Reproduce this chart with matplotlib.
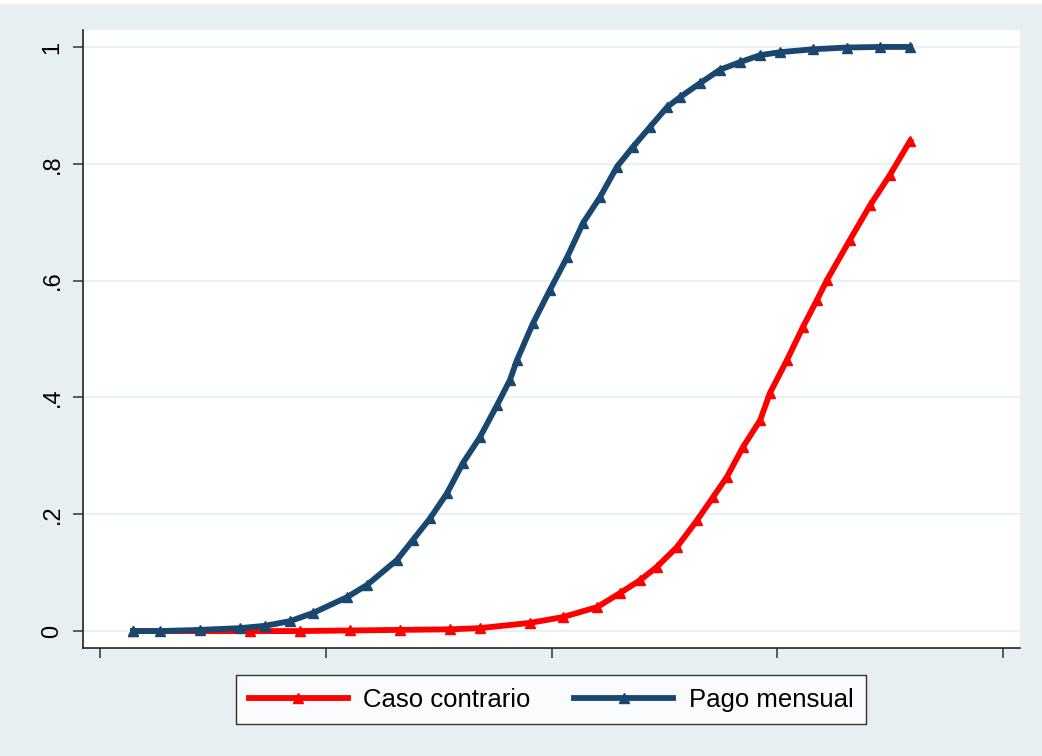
import matplotlib.pyplot as plt
from matplotlib.patches import Rectangle

plt.rcParams['font.family'] = ['Liberation Sans', 'DejaVu Sans']

# Pago mensual (curva azul)
x_pago = [0.146, 0.266, 0.443, 0.620, 0.731, 0.842, 0.944, 1.094, 1.183, 1.316,
          1.386, 1.462, 1.537, 1.608, 1.683, 1.759, 1.816, 1.847, 1.918, 1.993,
          2.069, 2.140, 2.215, 2.290, 2.361, 2.436, 2.512, 2.569, 2.658, 2.746,
          2.835, 2.924, 3.012, 3.158, 3.309, 3.455, 3.588]
y_pago = [0.000, 0.000, 0.002, 0.005, 0.009, 0.017, 0.031, 0.058, 0.079, 0.122,
          0.156, 0.193, 0.236, 0.288, 0.332, 0.387, 0.430, 0.464, 0.527, 0.584,
          0.640, 0.699, 0.743, 0.795, 0.829, 0.863, 0.897, 0.914, 0.938, 0.961,
          0.974, 0.986, 0.991, 0.996, 0.999, 1.000, 1.000]

# Caso contrario (curva roja)
x_caso = [0.146, 0.664, 0.886, 1.107, 1.329, 1.550, 1.683, 1.905, 2.051, 2.202,
          2.303, 2.392, 2.467, 2.556, 2.645, 2.715, 2.777, 2.848, 2.924, 2.968,
          3.043, 3.114, 3.176, 3.220, 3.322, 3.411, 3.499, 3.588]
y_caso = [0.000, 0.000, 0.000, 0.001, 0.002, 0.003, 0.005, 0.014, 0.024, 0.041,
          0.065, 0.087, 0.110, 0.144, 0.190, 0.229, 0.264, 0.315, 0.361, 0.408,
          0.464, 0.521, 0.567, 0.601, 0.670, 0.729, 0.781, 0.839]

y_ticks = [0, 0.2, 0.4, 0.6, 0.8, 1]
y_labels = ['0', '.2', '.4', '.6', '.8', '1']
x_ticks = [0, 1, 2, 3, 4]

bg = '#e8eff2'
azul = '#1a476f'
rojo = '#ff0000'

fig = plt.figure(figsize=(10.42, 7.56), dpi=100)
fig.patch.set_facecolor('white')
fig.patches.append(Rectangle((0, 0), 1, 1 - 4 / 756, transform=fig.transFigure,
                             facecolor=bg, edgecolor='none', zorder=-10))

ax = fig.add_axes([83 / 1042, 1 - 648 / 756, (1020 - 83) / 1042, (648 - 30) / 756])
ax.set_facecolor('white')

ax.plot(x_caso, y_caso, color=rojo, lw=4.2, marker='^', ms=7,
        label='Caso contrario', zorder=3)
ax.plot(x_pago, y_pago, color=azul, lw=4.2, marker='^', ms=7,
        label='Pago mensual', zorder=4)

ax.set_xlim(-0.0753, 4.075)
ax.set_ylim(-0.029, 1.029)
ax.set_yticks(y_ticks)
ax.set_yticklabels(y_labels, rotation=90, va='center', fontsize=17)
ax.set_xticks(x_ticks)
ax.set_xticklabels([])
ax.tick_params(axis='both', length=7, width=1.1, color='#333333', pad=7)

for v in y_ticks:
    ax.axhline(v, color='#eaf1f3', lw=1.5, zorder=1)

for s in ['top', 'right']:
    ax.spines[s].set_visible(False)
for s in ['left', 'bottom']:
    ax.spines[s].set_color('#222222')
    ax.spines[s].set_linewidth(1.2)

leg = fig.legend(loc='center', bbox_to_anchor=(0.529, 0.0747), ncol=2,
                 fontsize=18.5, handlelength=3.85, handletextpad=0.6,
                 columnspacing=1.7, numpoints=1, frameon=True, fancybox=False,
                 borderpad=0.5, borderaxespad=0)
leg.get_frame().set_edgecolor('black')
leg.get_frame().set_linewidth(1.0)
leg.get_frame().set_facecolor('white')

fig.savefig('out.png', dpi=100, facecolor=fig.get_facecolor())
